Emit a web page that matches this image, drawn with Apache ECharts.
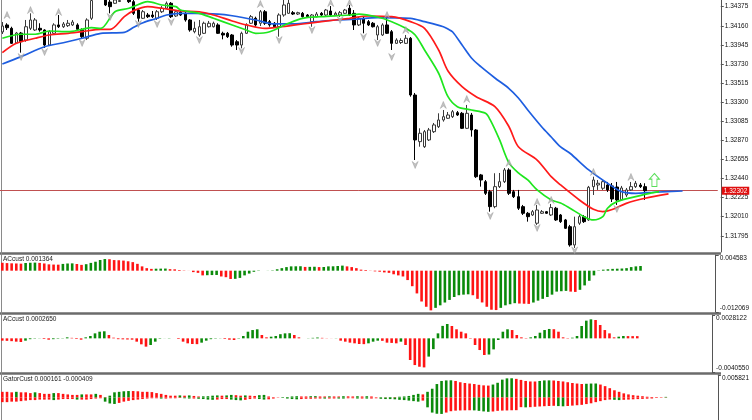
<!DOCTYPE html>
<html><head><meta charset="utf-8">
<script src="https://cdn.jsdelivr.net/npm/echarts@6/dist/echarts.min.js"></script>
<style>html,body{margin:0;padding:0;background:#fff}#c{width:752px;height:420px}</style>
</head><body><div id="c"></div>
<script>
// ---------- DATA ----------
// candles: [open, close, low, high]
const candles = [
[1.34090,1.34157,1.34067,1.34202],[1.34169,1.34138,1.34112,1.34188],[1.34131,1.33962,1.33955,1.34149],[1.33966,1.34078,1.33955,1.34090],
[1.34078,1.33980,1.33857,1.34090],[1.33999,1.34149,1.33980,1.34225],[1.34131,1.34225,1.34112,1.34300],[1.34112,1.34225,1.34101,1.34247],
[1.34131,1.34112,1.34093,1.34188],[1.34112,1.33943,1.33910,1.34120],[1.33943,1.34093,1.33932,1.34112],[1.34075,1.34169,1.34056,1.34188],
[1.34169,1.34149,1.34135,1.34281],[1.34149,1.34180,1.34135,1.34202],[1.34161,1.34188,1.34146,1.34225],[1.34169,1.34202,1.34157,1.34225],
[1.34169,1.34120,1.34112,1.34188],[1.34112,1.34037,1.34019,1.34131],[1.34019,1.34225,1.33999,1.34244],[1.34244,1.34444,1.34225,1.34484],
[1.34506,1.34585,1.34473,1.34619],[1.34563,1.34518,1.34484,1.34608],[1.34450,1.34394,1.34382,1.34484],[1.34427,1.34375,1.34300,1.34450],
[1.34413,1.34450,1.34405,1.34473],[1.34433,1.34444,1.34427,1.34461],[1.34484,1.34518,1.34461,1.34540],[1.34461,1.34431,1.34416,1.34484],
[1.34431,1.34300,1.34281,1.34450],[1.34337,1.34244,1.34206,1.34360],[1.34244,1.34318,1.34236,1.34337],[1.34281,1.34262,1.34247,1.34304],
[1.34281,1.34262,1.34247,1.34326],[1.34244,1.34318,1.34225,1.34337],[1.34318,1.34357,1.34304,1.34382],[1.34357,1.34413,1.34349,1.34433],
[1.34413,1.34262,1.34247,1.34427],[1.34270,1.34318,1.34259,1.34337],[1.34315,1.34281,1.34270,1.34337],[1.34300,1.34225,1.34206,1.34318],
[1.34225,1.34112,1.34093,1.34236],[1.34093,1.34131,1.34075,1.34206],[1.34056,1.34149,1.34037,1.34225],[1.34075,1.34188,1.34067,1.34206],
[1.34149,1.34188,1.34140,1.34214],[1.34149,1.34188,1.34140,1.34206],[1.34169,1.34075,1.34067,1.34188],[1.34075,1.34056,1.34007,1.34093],
[1.34075,1.34037,1.34022,1.34090],[1.34056,1.33943,1.33924,1.34067],[1.33980,1.33943,1.33887,1.33999],[1.33943,1.34075,1.33906,1.34093],
[1.34075,1.34169,1.34067,1.34188],[1.34188,1.34262,1.34180,1.34281],[1.34244,1.34169,1.34149,1.34262],[1.34188,1.34318,1.34157,1.34337],
[1.34318,1.34188,1.34169,1.34337],[1.34206,1.34169,1.34149,1.34225],[1.34188,1.34149,1.34135,1.34202],[1.34149,1.34281,1.34037,1.34300],
[1.34281,1.34394,1.34262,1.34450],[1.34300,1.34413,1.34292,1.34473],[1.34307,1.34292,1.34281,1.34326],[1.34292,1.34307,1.34281,1.34318],
[1.34300,1.34262,1.34253,1.34315],[1.34281,1.34262,1.34247,1.34292],[1.34206,1.34281,1.34149,1.34292],[1.34262,1.34292,1.34253,1.34315],
[1.34300,1.34281,1.34270,1.34315],[1.34281,1.34337,1.34270,1.34349],[1.34326,1.34281,1.34270,1.34382],[1.34281,1.34300,1.34270,1.34318],
[1.34281,1.34307,1.34259,1.34326],[1.34300,1.34337,1.34292,1.34349],[1.34357,1.34281,1.34270,1.34394],[1.34300,1.34169,1.34112,1.34337],
[1.34169,1.34244,1.34157,1.34259],[1.34244,1.34188,1.34075,1.34259],[1.34206,1.34169,1.34157,1.34225],[1.34188,1.34149,1.34140,1.34202],
[1.34056,1.34149,1.33999,1.34169],[1.34056,1.34169,1.34045,1.34188],[1.34169,1.34075,1.34067,1.34247],[1.34093,1.33962,1.33887,1.34112],
[1.33962,1.33999,1.33955,1.34019],[1.33971,1.33994,1.33955,1.34019],[1.33962,1.34019,1.33955,1.34056],[1.34019,1.33380,1.33361,1.34033],
[1.33380,1.32874,1.32648,1.33403],[1.32855,1.32949,1.32798,1.33005],[1.32798,1.32967,1.32784,1.32986],[1.32874,1.32986,1.32862,1.33009],
[1.32967,1.33043,1.32952,1.33065],[1.33023,1.33099,1.33009,1.33174],[1.33099,1.33136,1.33080,1.33211],[1.33118,1.33155,1.33110,1.33189],
[1.33136,1.33192,1.33121,1.33211],[1.33181,1.33155,1.33144,1.33200],[1.33174,1.33005,1.32997,1.33189],[1.33005,1.33174,1.32997,1.33268],
[1.33155,1.32986,1.32911,1.33178],[1.32986,1.32460,1.32446,1.32997],[1.32480,1.32423,1.32348,1.32491],[1.32404,1.32273,1.32254,1.32423],
[1.32291,1.32123,1.32066,1.32311],[1.32123,1.32348,1.32105,1.32499],[1.32348,1.32404,1.32333,1.32502],[1.32404,1.32536,1.32389,1.32558],
[1.32536,1.32273,1.32254,1.32555],[1.32291,1.32235,1.32220,1.32311],[1.32235,1.32105,1.32085,1.32311],[1.32123,1.32048,1.32029,1.32142],
[1.32048,1.32010,1.31954,1.32063],[1.32029,1.32066,1.32018,1.32085],[1.31936,1.32085,1.31917,1.32142],[1.32048,1.32066,1.32040,1.32085],
[1.32066,1.32048,1.32040,1.32074],[1.32029,1.32112,1.32018,1.32153],[1.32105,1.31973,1.31962,1.32120],[1.32029,1.31954,1.31939,1.32040],
[1.31973,1.31879,1.31871,1.31984],[1.31897,1.31691,1.31672,1.31917],[1.31691,1.31897,1.31657,1.32010],[1.31936,1.32010,1.31917,1.32029],
[1.32010,1.31954,1.31939,1.32029],[1.31973,1.32341,1.31962,1.32356],[1.32348,1.32423,1.32254,1.32460],[1.32367,1.32386,1.32311,1.32423],
[1.32330,1.32404,1.32311,1.32423],[1.32367,1.32311,1.32288,1.32401],[1.32356,1.32209,1.32175,1.32389],[1.32344,1.32198,1.32142,1.32401],
[1.32198,1.32333,1.32187,1.32356],[1.32254,1.32311,1.32232,1.32333],[1.32311,1.32348,1.32299,1.32401],[1.32348,1.32386,1.32333,1.32412],
[1.32367,1.32348,1.32333,1.32389],[1.32348,1.32302,1.32198,1.32386]
];
// Alligator lines: [barIndex, price]
const jaw = [[0,1.33729],[4,1.33812],[9,1.33924],[13,1.33969],[17,1.34019],[21,1.34075],[26,1.34086],[28,1.34143],[30,1.34194],[33,1.34244],[35,1.34281],[38,1.34300],[41,1.34300],[46,1.34292],[49,1.34273],[54,1.34225],[58,1.34180],[62,1.34180],[67,1.34206],[71,1.34225],[75,1.34233],[80,1.34251],[87,1.34244],[90,1.34206],[94,1.34149],[95,1.34123],[96,1.34090],[98,1.33943],[100,1.33797],[102,1.33699],[105,1.33572],[108,1.33453],[110,1.33347],[112,1.33211],[115,1.33020],[117,1.32907],[119,1.32795],[121,1.32724],[125,1.32536],[129,1.32386],[132,1.32292],[135,1.32273],[139,1.32285],[145,1.32299]];
const teeth = [[0,1.33857],[3,1.33962],[7,1.34019],[10,1.34056],[14,1.34075],[17,1.34093],[21,1.34120],[23,1.34120],[26,1.34262],[28,1.34330],[31,1.34375],[34,1.34357],[38,1.34326],[42,1.34318],[45,1.34281],[49,1.34214],[52,1.34169],[56,1.34131],[59,1.34146],[64,1.34180],[68,1.34206],[74,1.34244],[78,1.34270],[83,1.34262],[87,1.34206],[90,1.34130],[93,1.33887],[95,1.33650],[98,1.33474],[101,1.33361],[105,1.33249],[108,1.33023],[110,1.32798],[114,1.32648],[117,1.32460],[119,1.32367],[123,1.32198],[126,1.32093],[128,1.32066],[130,1.32090],[133,1.32160],[137,1.32217],[142,1.32266]];
const lips = [[0,1.34019],[4,1.34064],[7,1.34064],[10,1.34101],[14,1.34093],[17,1.34120],[19,1.34138],[21,1.34131],[24,1.34318],[27,1.34357],[30,1.34420],[31,1.34431],[34,1.34394],[37,1.34375],[38,1.34337],[42,1.34300],[45,1.34244],[49,1.34169],[52,1.34112],[54,1.34075],[57,1.34093],[61,1.34188],[64,1.34244],[68,1.34262],[74,1.34281],[76,1.34292],[80,1.34259],[83,1.34206],[86,1.34131],[88,1.34056],[90,1.33887],[93,1.33625],[95,1.33361],[97,1.33249],[100,1.33211],[103,1.33174],[104,1.33099],[106,1.32874],[108,1.32615],[110,1.32502],[112,1.32423],[114,1.32311],[117,1.32198],[119,1.32164],[121,1.32105],[124,1.32010],[126,1.31973],[128,1.32010],[129,1.32105],[131,1.32179],[135,1.32235],[138,1.32273],[140,1.32291]];
// Fractal marks: [barIndex, price]
const fractalUp = [[1,1.34281],[6,1.34337],[12,1.34315],[55,1.34405],[70,1.34416],[74,1.34416],[82,1.34281],[86,1.34112],[94,1.33268],[99,1.33335],[108,1.32615],[114,1.32175],[117,1.32198],[126,1.32513],[134,1.32457]];
const fractalDown = [[4,1.33808],[9,1.33864],[17,1.33966],[23,1.34259],[29,1.34180],[33,1.34180],[36,1.34202],[42,1.33999],[51,1.33876],[59,1.33999],[66,1.34112],[72,1.34225],[77,1.34033],[80,1.33966],[83,1.33808],[88,1.32592],[104,1.32018],[114,1.31883],[122,1.31629],[131,1.32097]];
const signalUp = [[139,1.32423]];
const currentPrice = 1.32302;
const priceTicks = [1.34375,1.34160,1.33945,1.33730,1.33515,1.33300,1.33085,1.32870,1.32655,1.32440,1.32225,1.32010,1.31795];
const priceRange = [1.31612, 1.34450];
// Indicator panes
const ac1 = [0.00232,0.00222,0.00215,0.00211,0.00205,0.00225,0.00232,0.00236,0.00228,0.00211,0.00185,0.00179,0.00176,0.00198,0.00210,0.00214,0.00195,0.00170,0.00190,0.00228,
0.00262,0.00312,0.00340,0.00335,0.00310,0.00305,0.00295,0.00275,0.00250,0.00200,0.00126,0.00074,0.00053,0.00058,0.00060,0.00062,0.00045,0.00040,0.00021,0.00008,
0.00002,-0.00042,-0.00063,-0.00137,-0.00132,-0.00128,-0.00125,-0.00169,-0.00190,-0.00242,-0.00238,-0.00211,-0.00137,-0.00084,-0.00032,-0.00010,0.00000,0.00003,0.00010,0.00042,
0.00074,0.00105,0.00126,0.00128,0.00130,0.00110,0.00112,0.00115,0.00105,0.00108,0.00126,0.00128,0.00137,0.00148,0.00126,0.00105,0.00074,0.00030,0.00020,0.00005,
-0.00020,-0.00030,-0.00050,-0.00063,-0.00105,-0.00137,-0.00169,-0.00274,-0.00453,-0.00664,-0.00900,-0.01054,-0.01159,-0.01086,-0.01012,-0.00930,-0.00854,-0.00769,-0.00717,-0.00700,
-0.00690,-0.00717,-0.00822,-0.00928,-0.01054,-0.01140,-0.01150,-0.01086,-0.01012,-0.00980,-0.00949,-0.00960,-0.00965,-0.00970,-0.00930,-0.00875,-0.00822,-0.00769,-0.00700,-0.00611,
-0.00600,-0.00590,-0.00611,-0.00620,-0.00559,-0.00430,-0.00295,-0.00137,-0.00010,0.00030,0.00042,0.00053,0.00058,0.00063,0.00074,0.00105,0.00126,0.001364];
const ac2 = [-0.00028,-0.00030,-0.00034,-0.00040,-0.00044,-0.00028,-0.00010,-0.00004,0.00002,-0.00008,-0.00016,-0.00010,-0.00005,0.00003,0.00012,0.00006,-0.00008,-0.00016,0.00012,0.00028,
0.00060,0.00080,0.00085,0.00040,0.00008,-0.00010,-0.00012,-0.00014,-0.00016,-0.00040,-0.00072,-0.00100,-0.00080,-0.00040,-0.00005,0.00001,0.00003,0.00000,-0.00008,-0.00040,
-0.00060,-0.00068,-0.00070,-0.00052,-0.00028,-0.00010,-0.00004,-0.00002,-0.00008,-0.00016,-0.00020,-0.00004,0.00028,0.00080,0.00100,0.00109,0.00040,0.00012,0.00020,0.00028,
0.00050,0.00060,0.00062,0.00040,0.00012,0.00000,0.00002,0.00006,0.00010,0.00006,0.00002,-0.00001,0.00002,-0.00028,-0.00040,-0.00052,-0.00060,-0.00068,-0.00070,-0.00060,
-0.00040,-0.00028,-0.00030,-0.00052,-0.00055,-0.00060,-0.00040,-0.00080,-0.00261,-0.00322,-0.00342,-0.00350,-0.00220,-0.00130,0.00060,0.00150,0.00173,0.00149,0.00109,0.00080,
0.00060,-0.00005,-0.00080,-0.00141,-0.00201,-0.00195,-0.00133,-0.00020,0.00080,0.00109,0.00100,0.00040,0.00012,0.00004,0.00012,0.00028,0.00068,0.00100,0.00113,0.00110,
0.00080,0.00012,0.00004,0.00008,0.00028,0.00149,0.00213,0.00229,0.00221,0.00161,0.00100,0.00060,0.00012,0.00020,0.00028,0.00027,0.000266,0.000265];
const gatorUp = [0.00147,0.00147,0.00134,0.00147,0.00134,0.00134,0.00114,0.00134,0.00114,0.00094,0.00094,0.00114,0.00114,0.00094,0.00080,0.00067,0.00067,0.00080,0.00080,0.00080,
0.00094,0.00067,0.00013,0.00047,0.00134,0.00147,0.00161,0.00167,0.00167,0.00161,0.00147,0.00147,0.00140,0.00114,0.00094,0.00067,0.00047,0.00047,0.00054,0.00047,
0.00054,0.00040,0.00027,0.00030,0.00033,0.00047,0.00054,0.00047,0.00054,0.00067,0.00060,0.00047,0.00054,0.00047,0.00040,0.00060,0.00067,0.00027,0.00007,0.00002,
0.00005,0.00013,0.00027,0.00033,0.00027,0.00027,0.00033,0.00035,0.00027,0.00027,0.00030,0.00027,0.00027,0.00033,0.00030,0.00027,0.00033,0.00027,0.00033,0.00027,
0.00003,0.00007,0.00007,0.00013,0.00013,0.00020,0.00027,0.00040,0.00067,0.00094,0.00080,0.00147,0.00227,0.00348,0.00428,0.00442,0.00445,0.00428,0.00395,0.00375,
0.00361,0.00348,0.00328,0.00314,0.00308,0.00335,0.00381,0.00462,0.00495,0.00497,0.00482,0.00455,0.00428,0.00415,0.00414,0.00428,0.00442,0.00443,0.00440,0.00428,
0.00415,0.00395,0.00375,0.00361,0.00350,0.00355,0.00361,0.00362,0.00335,0.00294,0.00241,0.00187,0.00147,0.00107,0.00080,0.00060,0.00047,0.00033,0.00020,0.00013,
0.00010,0.00008,0.00016];
const gatorDown = [-0.00120,-0.00120,-0.00107,-0.00107,-0.00094,-0.00080,-0.00067,-0.00067,-0.00054,-0.00054,-0.00054,-0.00067,-0.00054,-0.00040,-0.00040,-0.00040,-0.00054,-0.00054,-0.00054,-0.00040,
-0.00027,-0.00020,-0.00107,-0.00154,-0.00167,-0.00140,-0.00107,-0.00087,-0.00067,-0.00054,-0.00040,-0.00027,-0.00020,-0.00020,-0.00027,-0.00027,-0.00020,-0.00020,-0.00013,-0.00020,
-0.00027,-0.00027,-0.00033,-0.00040,-0.00054,-0.00060,-0.00054,-0.00040,-0.00040,-0.00054,-0.00067,-0.00074,-0.00060,-0.00040,-0.00027,-0.00040,-0.00054,-0.00047,-0.00027,-0.00007,
-0.00013,-0.00027,-0.00040,-0.00047,-0.00040,-0.00033,-0.00033,-0.00027,-0.00027,-0.00028,-0.00027,-0.00026,-0.00027,-0.00028,-0.00020,-0.00020,-0.00027,-0.00027,-0.00028,-0.00027,
-0.00020,-0.00033,-0.00040,-0.00041,-0.00047,-0.00060,-0.00067,-0.00080,-0.00094,-0.00107,-0.00080,-0.00254,-0.00390,-0.00420,-0.00425,-0.00390,-0.00355,-0.00340,-0.00335,-0.00332,
-0.00330,-0.00333,-0.00345,-0.00360,-0.00370,-0.00362,-0.00345,-0.00338,-0.00335,-0.00330,-0.00328,-0.00250,-0.00255,-0.00250,-0.00240,-0.00232,-0.00225,-0.00220,-0.00215,-0.00222,
-0.00228,-0.00220,-0.00210,-0.00200,-0.00190,-0.00170,-0.00150,-0.00120,-0.00094,-0.00067,-0.00054,-0.00060,-0.00067,-0.00060,-0.00054,-0.00047,-0.00041,-0.00036,-0.00030,-0.00025,
-0.00010,-0.00005,-0.00004];
const ac1Range = [-0.012069, 0.004583];
const ac2Range = [-0.0040550, 0.0028122];
const gatorRange = [-0.005821, 0.005821];
const paneTitles = ['ACcust 0.001364', 'ACcust 0.0002650', 'GatorCust 0.000161 -0.000409'];

// ---------- CHART ----------
const N = 153;
const cats = Array.from({length: N}, (_, i) => String(i));
const FONT = 'Liberation Sans, Arial, sans-serif';
const GREEN = '#0a8a0a', RED = '#ff1414';
const AXC = '#555';
const GL = -1.35, GW = 719.1;

const upColor = arr => p => (p.dataIndex > 0 && arr[p.dataIndex] > arr[p.dataIndex - 1]) ? GREEN : RED;
const dnColor = arr => p => (p.dataIndex > 0 && Math.abs(arr[p.dataIndex]) > Math.abs(arr[p.dataIndex - 1])) ? GREEN : RED;

function paneAxis(grid, range, val, align, digits, showLine) {
  return {
    type: 'value', gridIndex: grid, position: 'right', offset: 3, min: range[0], max: range[1],
    axisLine: {show: showLine, lineStyle: {color: AXC, width: 1}},
    axisTick: {show: true, length: 3, customValues: [val], lineStyle: {color: AXC}},
    splitLine: {show: false},
    axisLabel: {customValues: [val], margin: 4, fontSize: 6.5, fontFamily: FONT, color: '#111',
      verticalAlign: align, formatter: v => v.toFixed(digits)}
  };
}

const xAx = g => ({type: 'category', gridIndex: g, data: cats, boundaryGap: true, show: false});

const chart = echarts.init(document.getElementById('c'), null, {renderer: 'canvas'});
chart.setOption({
  animation: false,
  backgroundColor: '#ffffff',
  title: paneTitles.map((t, k) => ({text: t, left: 3, top: [255.5, 315.5, 375.5][k], padding: 0,
    textStyle: {fontSize: 6.5, fontWeight: 'normal', color: '#222', fontFamily: FONT}})),
  grid: [
    {left: GL, width: GW, top: 0, height: 252},
    {left: GL, width: GW, top: 255, height: 57},
    {left: GL, width: GW, top: 315, height: 57},
    {left: GL, width: GW, top: 375, height: 58}
  ],
  xAxis: [xAx(0), xAx(1), xAx(2), xAx(3)],
  yAxis: [
    {type: 'value', gridIndex: 0, position: 'right', offset: 3, min: priceRange[0], max: priceRange[1],
      axisLine: {show: true, lineStyle: {color: AXC, width: 1}},
      axisTick: {show: true, length: 3, customValues: priceTicks, lineStyle: {color: AXC}},
      splitLine: {show: false},
      axisLabel: {customValues: priceTicks, margin: 4, fontSize: 6.5, fontFamily: FONT, color: '#111',
        formatter: v => v.toFixed(5)}},
    paneAxis(1, ac1Range, ac1Range[1], 'top', 6, true),
    paneAxis(1, ac1Range, ac1Range[0], 'bottom', 6, false),
    paneAxis(2, ac2Range, ac2Range[1], 'top', 7, true),
    paneAxis(2, ac2Range, ac2Range[0], 'bottom', 7, false),
    paneAxis(3, gatorRange, gatorRange[1], 'top', 6, true)
  ],
  graphic: [
    {type: 'rect', shape: {x: 0, y: 252.2, width: 721, height: 2.6}, style: {fill: '#6b6b6b'}, silent: true},
    {type: 'rect', shape: {x: 0, y: 312.2, width: 721, height: 2.6}, style: {fill: '#6b6b6b'}, silent: true},
    {type: 'rect', shape: {x: 0, y: 372.2, width: 721, height: 2.6}, style: {fill: '#6b6b6b'}, silent: true},
    {type: 'line', shape: {x1: 1.5, y1: 0, x2: 1.5, y2: 420}, style: {stroke: '#8a8a8a', lineWidth: 1}, silent: true}
  ],
  series: [
    {type: 'candlestick', xAxisIndex: 0, yAxisIndex: 0, data: candles, barWidth: 3, clip: true,
      itemStyle: {color: '#ffffff', color0: '#000000', borderColor: '#3a3a3a', borderColor0: '#000000', borderWidth: 1}},
    {type: 'line', xAxisIndex: 0, yAxisIndex: 0, data: jaw, smooth: 0.3, symbol: 'none',
      lineStyle: {color: '#1e5ee0', width: 1.7}, z: 3,
      markLine: {silent: true, symbol: ['none', 'none'], animation: false, precision: 5, z: 1,
        lineStyle: {color: '#c05050', width: 1, type: 'solid'},
        label: {show: true, position: 'end', distance: 4, formatter: currentPrice.toFixed(5),
          backgroundColor: '#e01010', color: '#ffffff', fontSize: 6.5, fontFamily: FONT, padding: [1, 2, 0, 2]},
        data: [{yAxis: currentPrice}]}},
    {type: 'line', xAxisIndex: 0, yAxisIndex: 0, data: teeth, smooth: 0.3, symbol: 'none',
      lineStyle: {color: '#ff1a1a', width: 1.7}, z: 3},
    {type: 'line', xAxisIndex: 0, yAxisIndex: 0, data: lips, smooth: 0.3, symbol: 'none',
      lineStyle: {color: '#1ee61e', width: 1.7}, z: 3},
    {type: 'scatter', xAxisIndex: 0, yAxisIndex: 0, data: fractalUp, symbol: 'path://M5,0 L10,10 L5,6.5 L0,10 Z',
      symbolSize: [6, 7], itemStyle: {color: '#b4b4b4', borderColor: '#8c8c8c', borderWidth: 0.5}, z: 4},
    {type: 'scatter', xAxisIndex: 0, yAxisIndex: 0, data: fractalDown, symbol: 'path://M0,0 L5,3.5 L10,0 L5,10 Z',
      symbolSize: [6, 7], itemStyle: {color: '#b4b4b4', borderColor: '#8c8c8c', borderWidth: 0.5}, z: 4},
    {type: 'scatter', xAxisIndex: 0, yAxisIndex: 0, data: signalUp,
      symbol: 'path://M5,0 L10,6 L7.5,6 L7.5,14 L2.5,14 L2.5,6 L0,6 Z', symbolSize: [10, 13],
      itemStyle: {color: '#ffffff', borderColor: '#2ed62e', borderWidth: 1}, z: 5},
    {type: 'bar', xAxisIndex: 1, yAxisIndex: 1, data: ac1, barWidth: 2.6, itemStyle: {color: upColor(ac1)}},
    {type: 'bar', xAxisIndex: 2, yAxisIndex: 3, data: ac2, barWidth: 2.6, itemStyle: {color: upColor(ac2)}},
    {type: 'bar', xAxisIndex: 3, yAxisIndex: 5, data: gatorUp, barWidth: 2.6, barGap: '-100%', itemStyle: {color: upColor(gatorUp)}},
    {type: 'bar', xAxisIndex: 3, yAxisIndex: 5, data: gatorDown, barWidth: 2.6, barGap: '-100%', itemStyle: {color: dnColor(gatorDown)}}
  ]
});
</script>
</body></html>
